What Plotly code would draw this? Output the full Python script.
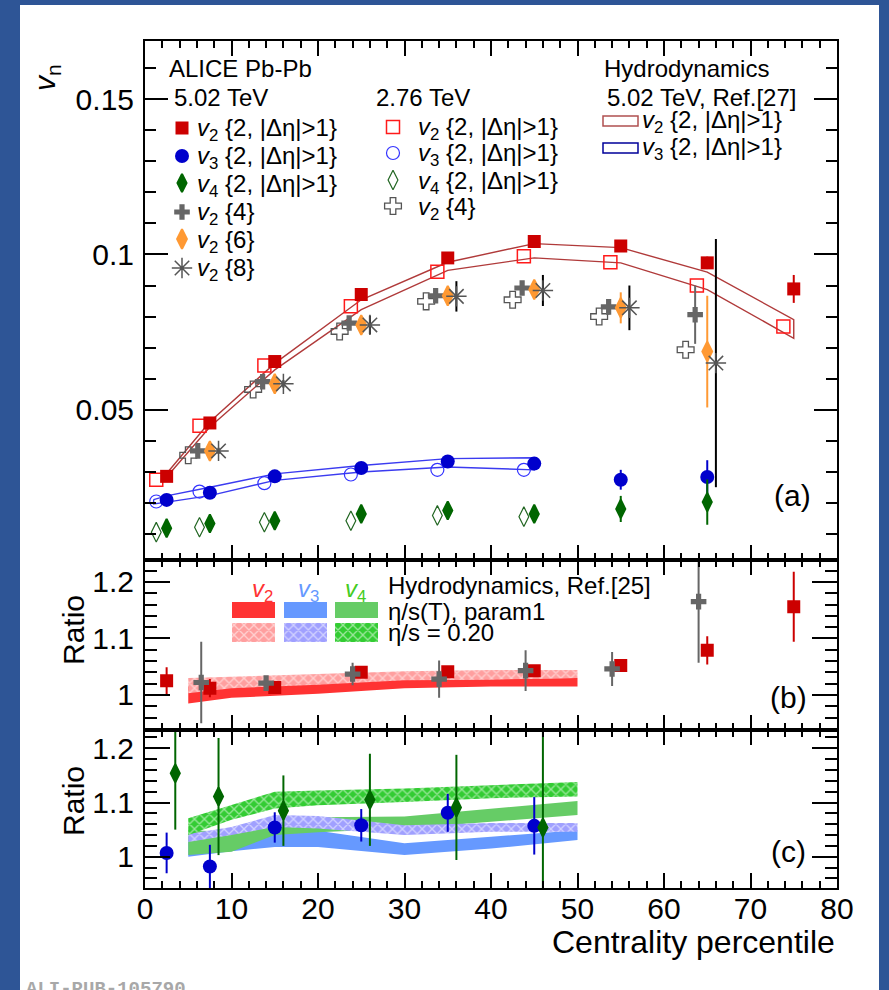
import plotly.graph_objects as go

FONT = "Liberation Sans, Arial, Helvetica, sans-serif"

# ======================= DATA =======================
cent = [2.5, 7.5, 15, 25, 35, 45, 55, 65, 75]
cent_multi = [7.5, 15, 25, 35, 45, 55, 65]

# panel (a): 5.02 TeV
v2_2_502 = [0.0285, 0.0457, 0.0655, 0.0871, 0.0989, 0.1042, 0.1027, 0.0973, 0.0889]
v2_2_502_err = [0.0006, 0.0006, 0.0006, 0.0006, 0.0006, 0.0007, 0.0010, 0.0020, 0.0045]
v3_2_502 = [0.0209, 0.0232, 0.0285, 0.0312, 0.0333, 0.0326, 0.0274, 0.0283]
v3_2_502_err = [0.0005, 0.0005, 0.0005, 0.0006, 0.0006, 0.0008, 0.0032, 0.0054]
v4_2_502 = [0.0118, 0.0133, 0.0142, 0.0164, 0.0175, 0.0164, 0.0180, 0.0202]
v4_2_502_err = [0.0008, 0.0008, 0.0008, 0.0010, 0.0010, 0.0012, 0.0042, 0.0073]
v2_4_502 = [0.0367, 0.0590, 0.0779, 0.0867, 0.0892, 0.0831, 0.0806]
v2_4_502_err = [0.0010, 0.0010, 0.0010, 0.0015, 0.0020, 0.0025, 0.0094]
v2_6_502 = [0.0367, 0.0583, 0.0773, 0.0867, 0.0887, 0.0828, 0.0687]
v2_6_502_err = [0.0010, 0.0010, 0.0012, 0.0015, 0.0020, 0.0050, 0.0180]
v2_8_502 = [0.0367, 0.0583, 0.0773, 0.0865, 0.0884, 0.0828, 0.0650]
v2_8_502_err = [0.0010, 0.0012, 0.0030, 0.0049, 0.0050, 0.0072, 0.0400]

# panel (a): 2.76 TeV
v2_2_276 = [0.0274, 0.0448, 0.0642, 0.0833, 0.0944, 0.0994, 0.0975, 0.0900, 0.0768]
v3_2_276 = [0.0204, 0.0236, 0.0263, 0.0291, 0.0306, 0.0306]
v4_2_276 = [0.0105, 0.0121, 0.0137, 0.0142, 0.0159, 0.0155]
v2_4_276 = [0.0353, 0.0565, 0.0752, 0.0849, 0.0854, 0.0800, 0.0693]

# panel (a): hydrodynamics 5.02 TeV, Ref.[27] (band edges)
hydro_v2_x = [2.5, 7.5, 15, 25, 35, 45, 55, 65, 75]
hydro_v2_hi = [0.0294, 0.0461, 0.0649, 0.0854, 0.0975, 0.1035, 0.1022, 0.0943, 0.0790]
hydro_v2_lo = [0.0283, 0.0444, 0.0628, 0.0822, 0.0949, 0.0989, 0.0973, 0.0887, 0.0730]
hydro_v3_x = [1.0, 2.5, 7.5, 15, 25, 35, 45]
hydro_v3_hi = [0.0210, 0.0222, 0.0250, 0.0293, 0.0320, 0.0342, 0.0345]
hydro_v3_lo = [0.0196, 0.0202, 0.0223, 0.0272, 0.0299, 0.0315, 0.0306]

# panel (b): ratio 5.02/2.76 for v2
ratio_v2_2 = [1.025, 1.012, 1.013, 1.040, 1.041, 1.043, 1.052, 1.079, 1.156]
ratio_v2_2_err = [0.024, 0.016, 0.010, 0.008, 0.008, 0.008, 0.010, 0.025, 0.062]
ratio_v2_4 = [1.022, 1.021, 1.037, 1.028, 1.043, 1.046, 1.165]
ratio_v2_4_err = [0.072, 0.012, 0.020, 0.033, 0.036, 0.030, 0.108]

# panel (c): ratio 5.02/2.76 for v3 and v4
cent_c = [2.5, 7.5, 15, 25, 35, 45]
ratio_v3 = [1.007, 0.982, 1.054, 1.058, 1.081, 1.057]
ratio_v3_err = [0.0375, 0.040, 0.028, 0.030, 0.035, 0.053]
ratio_v4 = [1.154, 1.111, 1.085, 1.105, 1.091, 1.054]
ratio_v4_err = [0.104, 0.108, 0.065, 0.085, 0.097, 0.210]

# hydrodynamics Ref.[25] bands
band_x = [5, 10, 20, 30, 40, 50]
b_v2_param1_lo = [0.985, 0.995, 1.002, 1.012, 1.015, 1.015]
b_v2_param1_hi = [1.015, 1.018, 1.023, 1.027, 1.028, 1.030]
b_v2_020_lo = [1.003, 1.012, 1.018, 1.026, 1.027, 1.030]
b_v2_020_hi = [1.030, 1.032, 1.037, 1.042, 1.044, 1.044]

band_xc = [5, 10, 15, 20, 30, 40, 50]
c_v3_param1_lo = [1.000, 1.010, 1.018, 1.018, 1.003, 1.015, 1.031]
c_v3_param1_hi = [1.030, 1.040, 1.050, 1.048, 1.025, 1.037, 1.049]
c_v3_020_lo = [1.027, 1.040, 1.055, 1.052, 1.040, 1.046, 1.046]
c_v3_020_hi = [1.042, 1.055, 1.077, 1.075, 1.058, 1.062, 1.062]
c_v4_param1_lo = [1.003, 1.009, 1.040, 1.045, 1.052, 1.065, 1.077]
c_v4_param1_hi = [1.049, 1.046, 1.075, 1.073, 1.074, 1.089, 1.103]
c_v4_020_lo = [1.040, 1.068, 1.089, 1.095, 1.101, 1.108, 1.111]
c_v4_020_hi = [1.071, 1.095, 1.120, 1.122, 1.126, 1.132, 1.138]

# ======================= STYLE =======================
SHIFT_276 = -1.2
SHIFT_V24 = -1.4
SHIFT_V24_276 = -2.5
SHIFT_V28 = 1.0

M_V2 = dict(symbol="square", size=13, color="#cc0000")
M_V3 = dict(symbol="circle", size=14, color="#0000cc")
M_V4 = dict(symbol="diamond-tall", size=13, color="#006600", line=dict(width=2, color="#006600"))
M_V24 = dict(symbol="cross", size=13, color="#666666")
M_V26 = dict(symbol="diamond-tall", size=14, color="#ff9933", line=dict(width=2, color="#ff9933"))
M_V28 = dict(symbol="asterisk-open", size=17, color="#555555", line=dict(width=1.5, color="#555555"))
M_V2o = dict(symbol="square-open", size=13, color="#ff1a1a", line=dict(width=1.5))
M_V3o = dict(symbol="circle-open", size=13, color="#3333ff", line=dict(width=1.2))
M_V4o = dict(symbol="diamond-tall-open", size=14, color="#226622", line=dict(width=1.2))
M_V24o = dict(symbol="cross-open", size=14, color="#555555", line=dict(width=1.3))

RED_SOLID, BLUE_SOLID, GREEN_SOLID = "#ff3333", "#6699ff", "#66cc66"
RED_HATCH, BLUE_HATCH, GREEN_HATCH = "#ff9f9f", "#a0a0ff", "#33cc33"


def shifted(xs, d):
    return [x + d for x in xs]


def err(arr, color, th=2):
    return dict(type="data", array=arr, width=0, thickness=th, color=color)


def band(xs, lo, hi, xa, ya, color, hatch=False):
    t = dict(x=list(xs) + list(xs)[::-1], y=list(hi) + list(lo)[::-1], mode="lines",
             fill="toself", line=dict(width=0), xaxis=xa, yaxis=ya, showlegend=False,
             hoverinfo="skip", fillcolor=color)
    if hatch:
        t["fillpattern"] = dict(shape="x", bgcolor=color, fgcolor="white", size=7, solidity=0.35)
    return go.Scatter(**t)


def outline(xs, lo, hi, xa, ya, color):
    xx = list(xs) + list(xs)[::-1] + [xs[0]]
    yy = list(hi) + list(lo)[::-1] + [hi[0]]
    return go.Scatter(x=xx, y=yy, mode="lines", line=dict(color=color, width=1.4),
                      xaxis=xa, yaxis=ya, showlegend=False, hoverinfo="skip")


def pts(x, y, marker, xa, ya, e=None, ecol=None):
    d = dict(x=x, y=y, mode="markers", marker=marker, xaxis=xa, yaxis=ya,
             showlegend=False, cliponaxis=True)
    if e is not None:
        d["error_y"] = err(e, ecol)
    return go.Scatter(**d)


fig = go.Figure()

# ---------- panel (a) ----------
fig.add_trace(outline(hydro_v2_x, hydro_v2_lo, hydro_v2_hi, "x3", "y3", "#b03a3a"))
fig.add_trace(outline(hydro_v3_x, hydro_v3_lo, hydro_v3_hi, "x3", "y3", "#3b3bf0"))
fig.add_trace(pts(shifted(cent, SHIFT_276), v2_2_276, M_V2o, "x3", "y3"))
fig.add_trace(pts(shifted(cent[:6], SHIFT_276), v3_2_276, M_V3o, "x3", "y3"))
fig.add_trace(pts(shifted(cent[:6], SHIFT_276), v4_2_276, M_V4o, "x3", "y3"))
fig.add_trace(pts(shifted(cent_multi, SHIFT_V24_276), v2_4_276, M_V24o, "x3", "y3"))
fig.add_trace(pts(shifted(cent_multi, SHIFT_V24), v2_4_502, M_V24, "x3", "y3", v2_4_502_err, "#666666"))
fig.add_trace(pts(cent_multi, v2_6_502, M_V26, "x3", "y3", v2_6_502_err, "#ff9933"))
fig.add_trace(pts(shifted(cent_multi, SHIFT_V28), v2_8_502, M_V28, "x3", "y3", v2_8_502_err, "#000000"))
fig.add_trace(pts(cent, v2_2_502, M_V2, "x3", "y3", v2_2_502_err, "#cc0000"))
fig.add_trace(pts(cent[:8], v3_2_502, M_V3, "x3", "y3", v3_2_502_err, "#0000cc"))
fig.add_trace(pts(cent[:8], v4_2_502, M_V4, "x3", "y3", v4_2_502_err, "#006600"))

# ---------- panel (b) ----------
fig.add_trace(band(band_x, b_v2_param1_lo, b_v2_param1_hi, "x2", "y2", RED_SOLID))
fig.add_trace(band(band_x, b_v2_020_lo, b_v2_020_hi, "x2", "y2", RED_HATCH, hatch=True))
fig.add_trace(pts(cent, ratio_v2_2, M_V2, "x2", "y2", ratio_v2_2_err, "#cc0000"))
fig.add_trace(pts(shifted(cent_multi, -1.0), ratio_v2_4, M_V24, "x2", "y2", ratio_v2_4_err, "#666666"))

# ---------- panel (c) ----------
fig.add_trace(band(band_xc, c_v3_param1_lo, c_v3_param1_hi, "x", "y", BLUE_SOLID))
fig.add_trace(band(band_xc, c_v4_param1_lo, c_v4_param1_hi, "x", "y", GREEN_SOLID))
fig.add_trace(band(band_xc, c_v3_020_lo, c_v3_020_hi, "x", "y", BLUE_HATCH, hatch=True))
fig.add_trace(band(band_xc, c_v4_020_lo, c_v4_020_hi, "x", "y", GREEN_HATCH, hatch=True))
fig.add_trace(pts(cent_c, ratio_v3, M_V3, "x", "y", ratio_v3_err, "#0000cc"))
fig.add_trace(pts(shifted(cent_c, 1.0), ratio_v4, M_V4, "x", "y", ratio_v4_err, "#006600"))

# ---------- legend keys (drawn on a pixel-space overlay axis) ----------
L, R, T, B = 145, 837, 41, 888
left_keys = [(M_V2, 128), (M_V3, 156), (M_V4, 183), (M_V24, 212), (M_V26, 239), (M_V28, 268)]
for m, yy in left_keys:
    fig.add_trace(go.Scatter(x=[182], y=[yy], mode="markers", marker=m, xaxis="x4", yaxis="y4",
                             showlegend=False, cliponaxis=False, hoverinfo="skip"))
mid_keys = [(M_V2o, 127), (M_V3o, 153), (M_V4o, 180), (M_V24o, 206)]
for m, yy in mid_keys:
    fig.add_trace(go.Scatter(x=[393], y=[yy], mode="markers", marker=m, xaxis="x4", yaxis="y4",
                             showlegend=False, cliponaxis=False, hoverinfo="skip"))
for x0, col in [(232, RED_HATCH), (284, BLUE_HATCH), (335, GREEN_HATCH)]:
    fig.add_trace(go.Scatter(x=[x0, x0 + 43, x0 + 43, x0, x0], y=[623, 623, 642, 642, 623],
                             mode="lines", fill="toself", line=dict(width=0), fillcolor=col,
                             fillpattern=dict(shape="x", bgcolor=col, fgcolor="white", size=7, solidity=0.35),
                             xaxis="x4", yaxis="y4", showlegend=False, hoverinfo="skip"))


def px(X):
    return (X - L) / (R - L)


def py(Y):
    return (B - Y) / (B - T)


shapes = []
shapes.append(dict(type="rect", xref="paper", yref="paper", x0=px(20), x1=px(879), y0=py(1000), y1=py(5),
                   fillcolor="white", line=dict(width=0), layer="below"))
shapes.append(dict(type="rect", xref="x4", yref="y4", x0=603, x1=638, y0=116, y1=126,
                   line=dict(color="#b05050", width=1.5), fillcolor="rgba(0,0,0,0)"))
shapes.append(dict(type="rect", xref="x4", yref="y4", x0=603, x1=638, y0=143, y1=153,
                   line=dict(color="#000099", width=1.5), fillcolor="rgba(0,0,0,0)"))
for x0, col in [(232, RED_SOLID), (284, BLUE_SOLID), (335, GREEN_SOLID)]:
    shapes.append(dict(type="rect", xref="x4", yref="y4", x0=x0, x1=x0 + 43, y0=602, y1=618,
                       line=dict(width=0), fillcolor=col))

ann = []


def text(X, Y, s, size=24, xanchor="left", color="black", angle=0, yanchor="middle", family=FONT):
    ann.append(dict(x=px(X), y=py(Y), xref="paper", yref="paper", text=s, showarrow=False,
                    xanchor=xanchor, yanchor=yanchor, textangle=angle,
                    font=dict(size=size, family=family, color=color)))


V = "<i>v</i><sub>%s</sub>"
DE = " {2, |Δη|>1}"
text(167, 68, "ALICE Pb-Pb")
text(172, 98, "5.02 TeV")
text(374, 98, "2.76 TeV")
text(602, 68, "Hydrodynamics")
text(605, 97, "5.02 TeV, Ref.[27]")
for s, yy in [(V % "2" + DE, 129), (V % "3" + DE, 157), (V % "4" + DE, 185),
              (V % "2" + " {4}", 213), (V % "2" + " {6}", 241), (V % "2" + " {8}", 269)]:
    text(195, yy, s)
for s, yy in [(V % "2" + DE, 128), (V % "3" + DE, 155), (V % "4" + DE, 182), (V % "2" + " {4}", 208)]:
    text(416, yy, s)
for s, yy in [(V % "2" + DE, 122), (V % "3" + DE, 149)]:
    text(640, yy, s)

text(262, 590, V % "2", xanchor="center", color=RED_SOLID)
text(308, 590, V % "3", xanchor="center", color=BLUE_SOLID)
text(355, 590, V % "4", xanchor="center", color="#44cc22")
text(386, 585, "Hydrodynamics, Ref.[25]")
text(386, 611, "η/s(T), param1")
text(386, 632, "η/s = 0.20")

text(792, 495, "(a)", size=30, xanchor="center")
text(788, 697, "(b)", size=30, xanchor="center")
text(788, 851, "(c)", size=30, xanchor="center")
text(47, 77, "<i>v</i><sub>n</sub>", size=30, xanchor="center", angle=-90)
text(73, 630, "Ratio", size=30, xanchor="center", angle=-90)
text(73, 801, "Ratio", size=30, xanchor="center", angle=-90)
text(837, 942, "Centrality percentile", size=32, xanchor="right")
text(24, 976, "<b>ALI-PUB-105790</b>", size=19, color="#a8a8a8", yanchor="top",
     family="Liberation Mono, DejaVu Sans Mono, monospace")


def xax(anchor, labels):
    return dict(range=[0, 80], dtick=10, tick0=0, ticks="inside", ticklen=15, tickwidth=2,
                tickcolor="black",
                minor=dict(dtick=2, ticks="inside", ticklen=7, tickwidth=2, tickcolor="black"),
                showline=True, linewidth=2, linecolor="black", mirror="ticks", showgrid=False,
                zeroline=False, showticklabels=labels, anchor=anchor, domain=[0, 1],
                ticklabelstandoff=-7,
                tickfont=dict(size=30, family=FONT, color="black"))


def yax(anchor, domain, rng, dtick, mdtick, tl, mtl, labels=True):
    return dict(range=rng, dtick=dtick, tick0=0, ticks="inside", ticklen=tl, tickwidth=2,
                tickcolor="black",
                minor=dict(dtick=mdtick, ticks="inside", ticklen=mtl, tickwidth=2, tickcolor="black"),
                showline=True, linewidth=2, linecolor="black", mirror="ticks", showgrid=False,
                zeroline=False, anchor=anchor, domain=domain, showticklabels=labels,
                ticklabelstandoff=3,
                tickfont=dict(size=30, family=FONT, color="black"))


dc = py(730)
dab = py(559.5)

fig.update_layout(
    width=889, height=990, autosize=False,
    margin=dict(l=L, r=889 - R, t=T, b=990 - B, pad=0),
    paper_bgcolor="#2e5596", plot_bgcolor="rgba(0,0,0,0)",
    showlegend=False,
    font=dict(family=FONT, color="black"),
    xaxis=xax("y", True),
    xaxis2=dict(xax("y2", False), matches="x"),
    xaxis3=dict(xax("y3", False), matches="x"),
    yaxis=yax("x", [0, dc], [0.9423, 1.2338], 0.1, 0.02, 25, 12),
    yaxis2=yax("x2", [dc, dab], [0.938, 1.2396], 0.1, 0.02, 25, 12),
    yaxis3=yax("x3", [dab, 1], [0.0017, 0.1688], 0.05, 0.01, 23, 11),
    xaxis4=dict(domain=[0, 1], range=[L, R], visible=False, anchor="y4", fixedrange=True),
    yaxis4=dict(domain=[0, 1], range=[B, T], visible=False, anchor="x4", fixedrange=True),
    shapes=shapes,
    annotations=ann,
)

fig.write_html("out.html", config={"displayModeBar": False},
               post_script="document.body.style.margin='0px';document.body.style.padding='0px';")
